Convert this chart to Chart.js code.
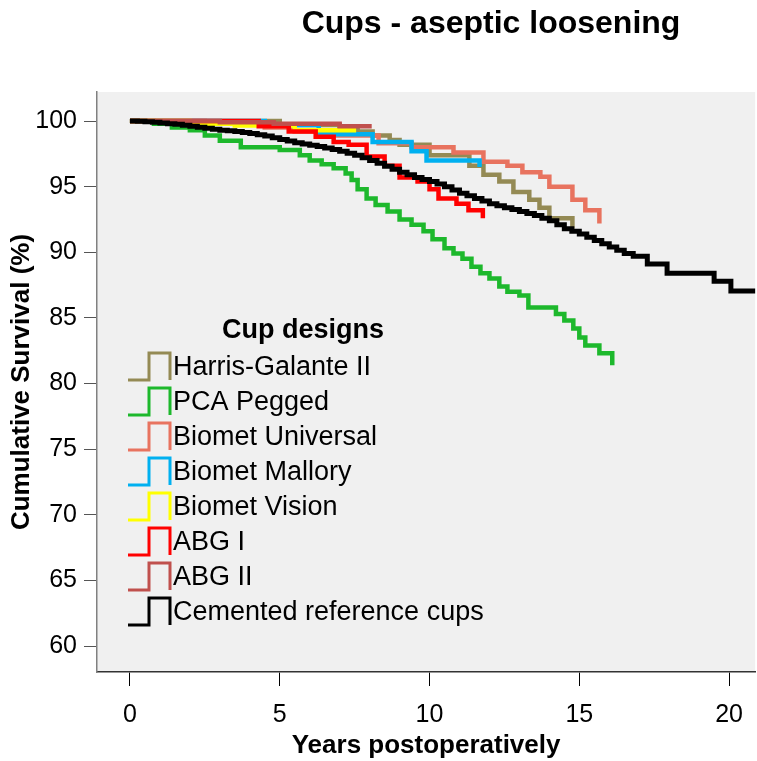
<!DOCTYPE html>
<html lang="en">
<head>
<meta charset="UTF-8">
<title>Cups - aseptic loosening</title>
<script src="https://cdn.jsdelivr.net/npm/chart.js@4.4.0/dist/chart.umd.min.js"></script>
<style>
  html, body { margin: 0; padding: 0; background: #fff; }
  #wrap { width: 757px; height: 761px; }
</style>
</head>
<body>
<div id="wrap"><canvas id="chart" width="757" height="761"></canvas></div>
<script>
// Kaplan-Meier steps: years and cumulative survival (%)
const cupDesigns = ['Harris-Galante II', 'PCA Pegged', 'Biomet Universal', 'Biomet Mallory',
                    'Biomet Vision', 'ABG I', 'ABG II', 'Cemented reference cups'];
const cupColors = ['#948a54', '#1db82c', '#e8735f', '#00b0f0', '#ffff00', '#ff0000', '#c0504d', '#000000'];

const hgYears = [0, 5.0, 7.0, 7.6, 8.1, 8.67, 9.0, 10.0, 11.33, 11.8, 12.33, 12.8, 13.33, 13.67, 14.0, 14.77];
const hgSurv  = [100, 99.7, 99.4, 99.2, 98.9, 98.55, 98.2, 97.4, 96.6, 95.9, 95.4, 94.6, 94.0, 93.4, 92.6, 91.8];

const pcaYears = [0, 0.8, 1.4, 2.0, 2.5, 3.0, 3.7, 5.0, 5.67, 6.0, 6.4, 6.8, 7.2, 7.4, 7.6, 7.9, 8.2, 8.6, 9.0, 9.4,
                  9.8, 10.1, 10.5, 10.8, 11.1, 11.4, 11.7, 12.0, 12.33, 12.6, 13.0, 13.3, 14.22, 14.5, 14.8, 15.0, 15.2, 15.67, 16.1];
const pcaSurv  = [100, 99.8, 99.5, 99.3, 98.9, 98.5, 98.0, 97.8, 97.4, 97.0, 96.7, 96.4, 96.0, 95.5, 94.8, 94.1, 93.6, 93.1, 92.5, 92.1,
                  91.6, 91.0, 90.3, 89.9, 89.5, 88.9, 88.4, 88.0, 87.4, 87.0, 86.7, 85.8, 85.3, 84.8, 84.2, 83.5, 82.9, 82.3, 81.4];

const univYears = [0, 2.5, 4.5, 5.5, 6.3, 8.3, 9.4, 10.8, 11.8, 12.6, 13.1, 13.7, 14.0, 14.77, 15.2, 15.67];
const univSurv  = [100, 99.8, 99.5, 99.2, 98.9, 98.3, 98.0, 97.6, 96.9, 96.6, 96.1, 95.75, 95.0, 94.0, 93.2, 92.2];

const mallYears = [0, 4.5, 6.3, 8.1, 9.4, 9.9, 11.67];
const mallSurv  = [100, 99.7, 99.0, 98.4, 97.7, 97.0, 96.5];

const visYears = [0, 2.0, 3.5, 5.5, 7.55];
const visSurv  = [100, 99.8, 99.65, 99.3, 99.3];

const abg1Years = [0, 4.3, 5.3, 6.2, 6.8, 7.3, 7.9, 8.5, 9.0, 9.6, 10.0, 10.3, 10.9, 11.3, 11.78];
const abg1Surv  = [100, 99.6, 99.2, 98.8, 98.4, 98.2, 97.3, 96.6, 95.7, 95.4, 94.8, 94.1, 93.7, 93.2, 92.6];

const abg2Years = [0, 3.0, 4.8, 7.0, 8.07];
const abg2Surv  = [100, 99.9, 99.8, 99.6, 99.6];

const cemYears = [0, 0.25, 0.5, 0.75, 1, 1.25, 1.5, 1.75, 2, 2.25, 2.5, 2.75, 3, 3.25, 3.5, 3.75, 4, 4.25, 4.5, 4.75,
                  5, 5.25, 5.5, 5.75, 6, 6.25, 6.5, 6.75, 7, 7.25, 7.5, 7.75, 8, 8.25, 8.5, 8.75, 9, 9.25, 9.5, 9.75,
                  10, 10.25, 10.5, 10.75, 11, 11.25, 11.5, 11.75, 12, 12.25, 12.5, 12.75, 13, 13.25, 13.5, 13.75,
                  14, 14.25, 14.5, 14.75, 15, 15.25, 15.5, 15.75, 16, 16.25, 16.5, 16.8, 17.27, 17.93, 19.5, 20.06, 20.9];
const cemSurv  = [100, 99.98, 99.95, 99.9, 99.85, 99.8, 99.75, 99.68, 99.6, 99.53, 99.45, 99.38, 99.3, 99.25, 99.2, 99.12, 99.05, 98.95, 98.85, 98.72,
                  98.6, 98.48, 98.35, 98.25, 98.15, 98.05, 97.95, 97.82, 97.7, 97.55, 97.4, 97.2, 97.0, 96.78, 96.55, 96.32, 96.1, 95.9, 95.7, 95.55,
                  95.4, 95.2, 95.0, 94.75, 94.5, 94.3, 94.1, 93.9, 93.7, 93.55, 93.4, 93.25, 93.1, 92.95, 92.8, 92.6,
                  92.4, 92.1, 91.8, 91.6, 91.4, 91.15, 90.9, 90.65, 90.4, 90.15, 89.9, 89.7, 89.1, 88.4, 87.8, 87.05, 87.05];

const xTicks = [0, 5, 10, 15, 20];
const yTicks = [60, 65, 70, 75, 80, 85, 90, 95, 100];

const allYears = [hgYears, pcaYears, univYears, mallYears, visYears, abg1Years, abg2Years, cemYears];
const allSurv = [hgSurv, pcaSurv, univSurv, mallSurv, visSurv, abg1Surv, abg2Surv, cemSurv];

Chart.defaults.font.family = "'Liberation Sans', Arial, sans-serif";
Chart.defaults.color = '#000';

const datasets = cupDesigns.map((name, i) => ({
    label: name,
    data: allYears[i].map((t, k) => ({ x: t, y: allSurv[i][k] })),
    borderColor: cupColors[i],
    borderWidth: i === 7 ? 5 : 4.5,
    stepped: true,
    pointRadius: 0,
    fill: false,
    order: cupDesigns.length - i
}));

const background = {
    id: 'background',
    beforeDraw(chart) {
        const { ctx, chartArea: a } = chart;
        ctx.save();
        ctx.fillStyle = '#fff';
        ctx.fillRect(0, 0, chart.width, chart.height);
        ctx.fillStyle = '#f0f0f0';
        ctx.fillRect(a.left, a.top, a.right - a.left, a.bottom - a.top);
        ctx.restore();
    }
};

// title and the step-shaped legend
const titleLegend = {
    id: 'titleLegend',
    afterDraw(chart) {
        const ctx = chart.ctx;
        ctx.save();
        ctx.fillStyle = '#000';
        ctx.textBaseline = 'middle';
        ctx.textAlign = 'center';
        ctx.font = "bold 32px 'Liberation Sans', Arial, sans-serif";
        ctx.fillText('Cups - aseptic loosening', 491, 24);

        ctx.font = "bold 27px 'Liberation Sans', Arial, sans-serif";
        ctx.fillText('Cup designs', 303, 331);

        ctx.font = "27px 'Liberation Sans', Arial, sans-serif";
        ctx.textAlign = 'left';
        chart.data.datasets.forEach((ds, i) => {
            const cy = 367 + 35 * i;
            ctx.strokeStyle = ds.borderColor;
            ctx.lineWidth = 3;
            ctx.beginPath();
            ctx.moveTo(128, cy + 13);
            ctx.lineTo(149, cy + 13);
            ctx.lineTo(149, cy - 14);
            ctx.lineTo(170, cy - 14);
            ctx.lineTo(170, cy + 13);
            ctx.stroke();
            ctx.fillText(ds.label, 173, cy + 1);
        });
        ctx.restore();
    }
};

new Chart(document.getElementById('chart'), {
    type: 'line',
    data: { datasets: datasets },
    options: {
        responsive: false,
        animation: false,
        layout: { padding: { top: 92, right: 0, left: 0, bottom: 0 } },
        plugins: { legend: { display: false }, tooltip: { enabled: false } },
        scales: {
            x: {
                type: 'linear',
                min: -1.1,
                max: 20.87,
                afterBuildTicks: s => { s.ticks = xTicks.map(v => ({ value: v })); },
                afterFit: s => { s.height = 89; },
                grid: { drawOnChartArea: false, drawTicks: true, tickLength: 14, color: '#000' },
                border: { color: '#333', width: 1.5 },
                ticks: { font: { size: 25 }, padding: 14 },
                title: { display: true, text: 'Years postoperatively', font: { size: 26, weight: 'bold' }, padding: { top: 0, bottom: 0 } }
            },
            y: {
                min: 58.02,
                max: 102.21,
                afterBuildTicks: s => { s.ticks = yTicks.map(v => ({ value: v })); },
                afterFit: s => { s.width = 97; },
                grid: { drawOnChartArea: false, drawTicks: true, tickLength: 13, color: '#555' },
                border: { color: '#808080', width: 1.5 },
                ticks: { font: { size: 25 }, padding: 7 },
                title: { display: true, text: 'Cumulative Survival (%)', font: { size: 26, weight: 'bold' }, padding: { top: 6, bottom: 0 } }
            }
        }
    },
    plugins: [background, titleLegend]
});
</script>
</body>
</html>
